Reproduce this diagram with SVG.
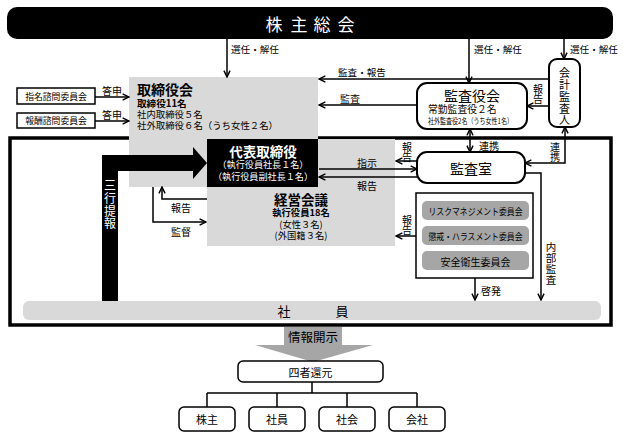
<svg xmlns="http://www.w3.org/2000/svg" width="626" height="444" viewBox="0 0 626 444">
<defs>
<marker id="ah" viewBox="0 0 10 10" refX="9" refY="5" markerWidth="8" markerHeight="8" markerUnits="userSpaceOnUse" orient="auto-start-reverse"><path d="M1,1.2 L9,5 L1,8.8" fill="none" stroke="#000" stroke-width="1.8"/></marker>
</defs>
<style>
text{font-family:"Noto Sans CJK JP","Noto Sans",sans-serif;dominant-baseline:central;fill:#000}
.c{text-anchor:middle}
.b{font-weight:bold}
.w{fill:#fff}
.ln{fill:none;stroke:#000;stroke-width:1.5}
.a{marker-end:url(#ah)}
.aa{marker-start:url(#ah);marker-end:url(#ah)}
.g{fill:#d9d9d9}
.box{fill:#fff;stroke:#000;stroke-width:2}
.thin{fill:#fff;stroke:#000;stroke-width:1.5}
.cm{fill:#a6a6a6}
</style>
<rect width="626" height="444" fill="#fff"/>

<g id="frame"><rect x="10" y="138" width="601" height="187" fill="none" stroke="#000" stroke-width="3.5"/></g>

<g id="shareholders-meeting">
<rect x="7" y="7" width="606" height="32" rx="10" fill="#000"/>
<text class="c w" x="274 299 322 346" y="23" font-size="17">株主総会</text>
</g>

<g id="board">
<rect class="g" x="129" y="77" width="189" height="110"/>
<text class="b" x="137" y="89" font-size="14">取締役会</text>
<text class="b" x="137" y="102.5" font-size="9.6">取締役11名</text>
<text x="137" y="113.5" font-size="9.4">社内取締役５名</text>
<text x="137" y="124.5" font-size="9.4" textLength="141" lengthAdjust="spacingAndGlyphs">社外取締役６名（うち女性２名）</text>
</g>

<g id="management-meeting">
<rect class="g" x="207" y="139" width="188" height="107"/>
<text class="c b" x="301" y="199" font-size="13.5">経営会議</text>
<text class="c b" x="301" y="212" font-size="9.3">執行役員18名</text>
<text class="c" x="301" y="223.5" font-size="9.3">(女性３名)</text>
<text class="c" x="301" y="235" font-size="9.3">(外国籍３名)</text>
</g>

<g id="representative-director">
<rect x="207" y="139" width="111" height="48" fill="#000"/>
<text class="c b w" x="263" y="150.5" font-size="13.5">代表取締役</text>
<text class="c w" x="263" y="164" font-size="9.1">（執行役員社長１名）</text>
<text class="c w" x="263" y="176" font-size="9.1">（執行役員副社長１名）</text>
</g>

<g id="three-line-report">
<polygon points="102,301 102,155 193,155 193,147 207,163 193,179 193,171 118,171 118,301" fill="#000"/>
<text class="c w" x="110 110 110 110" y="184 197 210 222" font-size="12">三行提報</text>
</g>

<g id="nomination-committee">
<rect class="thin" x="17" y="88" width="78" height="16"/>
<text class="c" x="56" y="96" font-size="8.8">指名諮問委員会</text>
</g>
<g id="compensation-committee">
<rect class="thin" x="17" y="113" width="78" height="15"/>
<text class="c" x="56" y="120.5" font-size="8.8">報酬諮問委員会</text>
</g>

<g id="audit-board">
<rect class="box" x="417" y="83" width="110" height="46" rx="10"/>
<text class="c" x="472" y="95" font-size="14">監査役会</text>
<text x="428" y="108.5" font-size="9.8">常勤監査役２名</text>
<text x="428" y="120.5" font-size="7.8" textLength="85" lengthAdjust="spacingAndGlyphs">社外監査役2名（うち女性1名）</text>
</g>

<g id="accounting-auditor">
<rect class="box" x="549" y="59" width="31" height="68" rx="8"/>
<text class="c" x="564.5 564.5 564.5 564.5 564.5" y="72 84 96 107.5 119" font-size="11">会計監査人</text>
</g>

<g id="audit-office">
<rect class="box" x="417" y="152" width="108" height="31" rx="10"/>
<text class="c" x="471" y="168" font-size="14">監査室</text>
</g>

<g id="committees">
<rect class="thin" x="416" y="193" width="117" height="85"/>
<rect class="cm" x="422" y="201" width="107" height="19" rx="5"/>
<rect class="cm" x="422" y="226" width="107" height="19" rx="5"/>
<rect class="cm" x="422" y="251" width="107" height="19" rx="5"/>
<text class="c" x="475.5" y="211" font-size="9.5" textLength="94" lengthAdjust="spacingAndGlyphs">リスクマネジメント委員会</text>
<text class="c" x="475.5" y="236" font-size="9.5" textLength="94" lengthAdjust="spacingAndGlyphs">懲戒・ハラスメント委員会</text>
<text class="c" x="475.5" y="261" font-size="10">安全衛生委員会</text>
</g>

<g id="employees">
<rect class="g" x="23" y="301" width="578" height="19" rx="6"/>
<text class="c" x="284" y="310.5" font-size="13">社</text>
<text class="c" x="342" y="310.5" font-size="13">員</text>
</g>

<g id="disclosure">
<polygon points="284,327 342,327 342,345 373,345 313,362 255,345 284,345" fill="#a6a6a6"/>
<text class="c" x="313" y="336" font-size="12.5" fill="#222">情報開示</text>
</g>

<g id="four-return">
<rect class="thin" x="238" y="361" width="145" height="21" rx="5"/>
<text class="c" x="310.5" y="371.5" font-size="11">四者還元</text>
</g>
<g id="stakeholder-shareholders"><rect class="thin" x="179" y="407" width="56" height="24" rx="5"/><text class="c" x="207" y="419" font-size="11">株主</text></g>
<g id="stakeholder-employees"><rect class="thin" x="249" y="407" width="56" height="24" rx="5"/><text class="c" x="277" y="419" font-size="11">社員</text></g>
<g id="stakeholder-society"><rect class="thin" x="319" y="407" width="56" height="24" rx="5"/><text class="c" x="347" y="419" font-size="11">社会</text></g>
<g id="stakeholder-company"><rect class="thin" x="389" y="407" width="56" height="24" rx="5"/><text class="c" x="417" y="419" font-size="11">会社</text></g>

<g id="connectors">
<path class="ln a" d="M227,39 V77"/>
<path class="ln a" d="M469,39 V83"/>
<path class="ln a" d="M564,39 V59"/>
<path class="ln a" d="M549,79 H319"/>
<path class="ln a" d="M417,105 H319"/>
<path class="ln a" d="M549,106 H527"/>
<path class="ln a" d="M95,97 H129"/>
<path class="ln a" d="M95,121 H129"/>
<path class="ln a" d="M207,199 H162 V187"/>
<path class="ln a" d="M153,187 V222 H206"/>
<path class="ln a" d="M319,169 H417"/>
<path class="ln a" d="M417,177 H319"/>
<path class="ln a" d="M417,161 H396"/>
<path class="ln aa" d="M470,129 V152"/>
<path class="ln aa" d="M565,127 V163 H525"/>
<path class="ln a" d="M525,173 H541 V300"/>
<path class="ln a" d="M475,278 V300"/>
<path class="ln a" d="M416,236 H396"/>
<path class="ln" d="M312,382 V393 M207,393 H417 M207,393 V407 M277,393 V407 M347,393 V407 M417,393 V407"/>

<text x="231" y="49" font-size="9.6">選任・解任</text>
<text x="474" y="49" font-size="9.6">選任・解任</text>
<text x="570" y="49" font-size="9.6">選任・解任</text>
<text x="338" y="72" font-size="9.6">監査・報告</text>
<text x="340" y="98" font-size="10">監査</text>
<text class="c" x="538 538" y="88 98" font-size="10">報告</text>
<text x="102" y="90" font-size="10">答申</text>
<text x="102" y="114" font-size="10">答申</text>
<text x="171" y="207" font-size="10">報告</text>
<text x="171" y="231" font-size="10">監督</text>
<text class="c" x="367" y="162" font-size="10">指示</text>
<text class="c" x="367" y="185" font-size="10">報告</text>
<text class="c" x="407 407" y="146 156" font-size="10">報告</text>
<text x="479" y="145" font-size="10">連携</text>
<text class="c" x="555 555" y="146 156" font-size="10">連携</text>
<text class="c" x="551 551 551 551" y="246 257 268 279" font-size="10.5">内部監査</text>
<text x="481" y="290" font-size="10">啓発</text>
<text class="c" x="407 407" y="219 229" font-size="10">報告</text>
</g>
</svg>
